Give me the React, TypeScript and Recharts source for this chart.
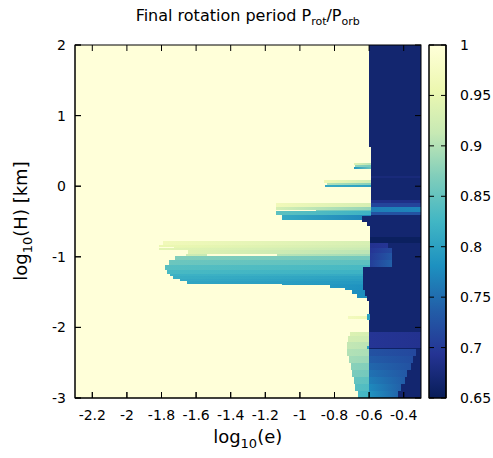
import { ComposedChart, XAxis, YAxis, ReferenceArea, Scatter } from 'recharts'

// each row: [yTop, yBottom, xLeft, xRight, valueLeft, valueRight]
type Row = [number, number, number, number, number, number]

const xTicks = [-2.2, -2, -1.8, -1.6, -1.4, -1.2, -1, -0.8, -0.6, -0.4]
const yTicks = [-3, -2, -1, 0, 1, 2]
const cbTicks = [0.65, 0.7, 0.75, 0.8, 0.85, 0.9, 0.95, 1]
const xDomain = [-2.3, -0.3]
const yDomain = [-3, 2]
const cbDomain = [0.65, 1]
const corners = [
  { x: -2.3, y: -3 },
  { x: -0.3, y: 2 },
]
const cbCorners = [
  { x: 0, y: 0.65 },
  { x: 1, y: 1 },
]

// YlGnBu, from value 1 (top) down to 0.65
const palette = ['#ffffd9', '#edf8b1', '#c7e9b4', '#7fcdbb', '#41b6c4', '#1d91c0', '#225ea8', '#253494', '#081d58']

const background: Row[] = [[2, -3, -2.3, -0.3, 1, 1]]

const tongueA: Row[] = [
  [0.33, 0.3, -0.686, -0.58, 0.94, 0.9],
  [0.3, 0.275, -0.68, -0.58, 0.88, 0.86],
  [0.275, 0.25, -0.686, -0.58, 0.79, 0.86],
]

const tongueB: Row[] = [
  [0.084, 0.05, -0.86, -0.58, 0.96, 0.92],
  [0.05, 0.02, -0.845, -0.58, 0.9, 0.87],
  [0.02, -0.016, -0.855, -0.58, 0.81, 0.8],
]

const tongueC: Row[] = [
  [-0.238, -0.295, -1.136, -0.58, 0.965, 0.93],
  [-0.295, -0.338, -1.136, -0.58, 0.93, 0.88],
  [-0.338, -0.355, -1.136, -0.58, 0.88, 0.85],
  [-0.355, -0.412, -1.14, -0.58, 0.845, 0.82],
  [-0.412, -0.483, -1.104, -0.58, 0.81, 0.77],
]

const tongueD: Row[] = [
  [-0.78, -0.83, -1.79, -0.58, 0.965, 0.93],
  [-0.83, -0.855, -1.813, -0.58, 0.955, 0.925],
  [-0.855, -0.875, -1.73, -0.58, 0.95, 0.92],
  [-0.875, -0.9, -1.813, -0.58, 0.945, 0.915],
  [-0.9, -0.96, -1.646, -0.58, 0.94, 0.905],
  [-0.96, -0.985, -1.66, -0.58, 0.92, 0.89],
  [-0.985, -1.05, -1.72, -0.58, 0.87, 0.86],
  [-1.05, -1.12, -1.755, -0.58, 0.855, 0.845],
  [-1.12, -1.19, -1.782, -0.58, 0.84, 0.83],
  [-1.19, -1.238, -1.766, -0.58, 0.83, 0.82],
  [-1.238, -1.276, -1.749, -0.58, 0.82, 0.81],
  [-1.276, -1.315, -1.732, -0.58, 0.815, 0.8],
  [-1.315, -1.347, -1.691, -0.58, 0.81, 0.795],
  [-1.347, -1.38, -1.65, -0.58, 0.805, 0.79],
  [-1.38, -1.404, -1.104, -0.58, 0.795, 0.785],
  [-1.404, -1.44, -0.824, -0.58, 0.79, 0.78],
  [-1.44, -1.474, -0.74, -0.58, 0.785, 0.78],
  [-1.474, -1.53, -0.7, -0.58, 0.78, 0.775],
  [-1.53, -1.59, -0.672, -0.58, 0.78, 0.775],
]

const fan: Row[] = [
  [-2.065, -2.12, -0.709, -0.58, 0.935, 0.93],
  [-2.12, -2.2, -0.72, -0.58, 0.925, 0.92],
  [-2.2, -2.3, -0.728, -0.58, 0.91, 0.905],
  [-2.3, -2.4, -0.725, -0.58, 0.9, 0.895],
  [-2.4, -2.5, -0.715, -0.58, 0.89, 0.885],
  [-2.5, -2.6, -0.705, -0.58, 0.875, 0.87],
  [-2.6, -2.7, -0.697, -0.58, 0.865, 0.86],
  [-2.7, -2.8, -0.69, -0.58, 0.85, 0.845],
  [-2.8, -2.9, -0.68, -0.58, 0.84, 0.835],
  [-2.9, -3, -0.665, -0.58, 0.83, 0.825],
]

const whiteLines: Row[] = [
  [-0.338, -0.355, -1.136, -0.905, 1, 1],
  [-0.96, -0.985, -1.537, -1.133, 1, 1],
  [-1.843, -1.885, -0.72, -0.61, 0.97, 0.96],
]

const darkZone: Row[] = [
  [2, 0.55, -0.603, -0.3, 0.667, 0.667],
  [0.55, -0.42, -0.59, -0.3, 0.667, 0.667],
  [-0.42, -0.5, -0.64, -0.3, 0.667, 0.667],
  [-0.5, -0.56, -0.61, -0.3, 0.667, 0.667],
  [-0.56, -1.15, -0.593, -0.3, 0.667, 0.667],
  [-1.15, -1.47, -0.637, -0.3, 0.667, 0.667],
  [-1.47, -1.55, -0.625, -0.3, 0.667, 0.667],
  [-1.55, -1.62, -0.61, -0.3, 0.667, 0.667],
  [-1.62, -3, -0.602, -0.3, 0.667, 0.667],
]

const darkBands: Row[] = [
  [0.14, 0.12, -0.59, -0.3, 0.675, 0.675],
  [-0.2, -0.238, -0.59, -0.3, 0.685, 0.685],
  [-0.238, -0.295, -0.59, -0.3, 0.71, 0.71],
  [-0.295, -0.365, -0.59, -0.3, 0.765, 0.77],
  [-0.365, -0.402, -0.59, -0.3, 0.725, 0.725],
  [-0.72, -0.8, -0.593, -0.3, 0.655, 0.655],
  [-0.8, -0.87, -0.593, -0.49, 0.69, 0.695],
  [-0.87, -0.95, -0.593, -0.47, 0.695, 0.715],
  [-0.95, -1.05, -0.593, -0.466, 0.7, 0.73],
  [-1.05, -1.15, -0.593, -0.466, 0.705, 0.74],
  [-2.07, -2.29, -0.602, -0.3, 0.695, 0.69],
  [-2.29, -2.31, -0.602, -0.3, 0.66, 0.66],
  [-2.31, -2.4, -0.602, -0.33, 0.725, 0.715],
  [-2.4, -2.5, -0.602, -0.345, 0.735, 0.72],
  [-2.5, -2.6, -0.602, -0.36, 0.745, 0.725],
  [-2.6, -2.7, -0.602, -0.38, 0.755, 0.73],
  [-2.7, -2.8, -0.602, -0.395, 0.765, 0.735],
  [-2.8, -2.9, -0.602, -0.415, 0.775, 0.74],
  [-2.9, -3, -0.602, -0.435, 0.785, 0.745],
]

const specks: Row[] = [
  [-1.814, -1.9, -0.612, -0.596, 0.8, 0.8],
  [-2.257, -2.3, -0.615, -0.6, 0.8, 0.8],
]

const rows: Row[] = [
  ...background, ...tongueA, ...tongueB, ...tongueC, ...tongueD, ...fan,
  ...whiteLines, ...darkZone, ...darkBands, ...specks,
]

function hexRgb(h: string) {
  return [1, 3, 5].map((i) => parseInt(h.slice(i, i + 2), 16))
}

function colour(v: number) {
  const t = Math.min(1, Math.max(0, (1 - v) / 0.35)) * (palette.length - 1)
  const i = Math.min(palette.length - 2, Math.floor(t))
  const f = t - i
  const a = hexRgb(palette[i])
  const b = hexRgb(palette[i + 1])
  const c = a.map((x, k) => Math.round(x + (b[k] - x) * f))
  return `rgb(${c[0]},${c[1]},${c[2]})`
}

const font = 'DejaVu Sans'
const tickStyle = { fill: '#000', fontSize: 14, fontFamily: font }
const noShape = () => <g />

const W = 493
const H = 458
const mainMargin = { top: 45, right: 72, bottom: 30, left: 15 }
const cbLeft = 409
const cbMargin = { top: 45, right: 7, bottom: 60, left: 20 }

// plot boxes, matching the margins + axis sizes handed to recharts
const plot = { l: mainMargin.left + 60, r: W - mainMargin.right, t: mainMargin.top, b: H - mainMargin.bottom - 30 }
const cbox = { l: cbLeft + cbMargin.left, r: cbLeft + 84 - cbMargin.right - 40, t: cbMargin.top, b: H - cbMargin.bottom }
const px = (v: number) => plot.l + ((v - xDomain[0]) / (xDomain[1] - xDomain[0])) * (plot.r - plot.l)
const py = (v: number) => plot.t + ((yDomain[1] - v) / (yDomain[1] - yDomain[0])) * (plot.b - plot.t)
const cy = (v: number) => cbox.t + ((cbDomain[1] - v) / (cbDomain[1] - cbDomain[0])) * (cbox.b - cbox.t)

function Heatmap() {
  return (
    <ComposedChart width={W} height={H} data={corners} margin={mainMargin}>
      <defs>
        {rows.map((r, i) =>
          r[4] !== r[5] ? (
            <linearGradient key={i} id={`row${i}`} x1="0" y1="0" x2="1" y2="0">
              <stop offset="0%" stopColor={colour(r[4])} />
              <stop offset="100%" stopColor={colour(r[5])} />
            </linearGradient>
          ) : null
        )}
      </defs>
      {rows.map((r, i) => (
        <ReferenceArea
          key={i}
          x1={r[2]}
          x2={r[3]}
          y1={r[1]}
          y2={r[0]}
          fill={r[4] === r[5] ? colour(r[4]) : `url(#row${i})`}
          fillOpacity={1}
          stroke="none"
          shapeRendering="crispEdges"
          ifOverflow="hidden"
        />
      ))}
      <Scatter dataKey="y" shape={noShape} isAnimationActive={false} />
      <XAxis
        dataKey="x"
        type="number"
        domain={xDomain}
        ticks={xTicks}
        interval={0}
        allowDataOverflow
        height={30}
        tickSize={-6}
        tickMargin={18}
        stroke="#000"
        tick={tickStyle}
      />
      <YAxis
        dataKey="y"
        type="number"
        domain={yDomain}
        ticks={yTicks}
        interval={0}
        allowDataOverflow
        width={60}
        tickSize={-6}
        tickMargin={15}
        stroke="#000"
        tick={tickStyle}
      />
    </ComposedChart>
  )
}

function ColourBar() {
  return (
    <ComposedChart width={84} height={H} data={cbCorners} margin={cbMargin}>
      <defs>
        <linearGradient id="cbar" x1="0" y1="0" x2="0" y2="1">
          {palette.map((c, i) => (
            <stop key={i} offset={`${(i / (palette.length - 1)) * 100}%`} stopColor={c} />
          ))}
        </linearGradient>
      </defs>
      <ReferenceArea
        yAxisId="cb"
        x1={0}
        x2={1}
        y1={0.65}
        y2={1}
        fill="url(#cbar)"
        fillOpacity={1}
        stroke="#000"
      />
      <Scatter yAxisId="cb" dataKey="y" shape={noShape} isAnimationActive={false} />
      <XAxis dataKey="x" type="number" domain={[0, 1]} hide />
      <YAxis
        yAxisId="cb"
        dataKey="y"
        orientation="right"
        type="number"
        domain={cbDomain}
        ticks={cbTicks}
        interval={0}
        width={40}
        tickSize={-5}
        tickMargin={19}
        tickLine={false}
        stroke="#000"
        tick={tickStyle}
      />
    </ComposedChart>
  )
}

// border box with inward ticks on all four sides, plus colour-bar dashes
function Frame() {
  return (
    <g stroke="#000" strokeWidth={1} fill="none">
      <rect x={plot.l} y={plot.t} width={plot.r - plot.l} height={plot.b - plot.t} />
      {xTicks.map((t) => (
        <g key={`x${t}`}>
          <line x1={px(t)} x2={px(t)} y1={plot.t} y2={plot.t + 6} />
          <line x1={px(t)} x2={px(t)} y1={plot.b} y2={plot.b - 6} />
        </g>
      ))}
      {yTicks.map((t) => (
        <g key={`y${t}`}>
          <line x1={plot.l} x2={plot.l + 6} y1={py(t)} y2={py(t)} />
          <line x1={plot.r} x2={plot.r - 6} y1={py(t)} y2={py(t)} />
        </g>
      ))}
      <rect x={cbox.l} y={cbox.t} width={cbox.r - cbox.l} height={cbox.b - cbox.t} />
      {cbTicks.map((t) => (
        <g key={`c${t}`}>
          <line x1={cbox.l} x2={cbox.l + 5} y1={cy(t)} y2={cy(t)} />
          <line x1={cbox.r} x2={cbox.r - 5} y1={cy(t)} y2={cy(t)} />
        </g>
      ))}
    </g>
  )
}

export default function App() {
  return (
    <div style={{ position: 'absolute', left: 0, top: 0, width: W, height: H, background: '#fff' }}>
      <div style={{ position: 'absolute', left: 0, top: 0 }}>
        <Heatmap />
      </div>
      <div style={{ position: 'absolute', left: cbLeft, top: 0 }}>
        <ColourBar />
      </div>
      <svg
        width={W}
        height={H}
        style={{ position: 'absolute', left: 0, top: 0, pointerEvents: 'none' }}
        fontFamily={font}
      >
        <Frame />
        <text x={247.7} y={21} textAnchor="middle" fontSize={16}>
          Final rotation period P<tspan fontSize={11} dy={4}>rot</tspan>
          <tspan dy={-4}>/P</tspan>
          <tspan fontSize={11} dy={4}>orb</tspan>
        </text>
        <text x={247.7} y={443} textAnchor="middle" fontSize={18}>
          log<tspan fontSize={13} dy={5}>10</tspan>
          <tspan dy={-5}>(e)</tspan>
        </text>
        <text x={27} y={221} textAnchor="middle" fontSize={18} transform="rotate(-90 27 221)">
          log<tspan fontSize={13} dy={5}>10</tspan>
          <tspan dy={-5}>(H) [km]</tspan>
        </text>
      </svg>
    </div>
  )
}
